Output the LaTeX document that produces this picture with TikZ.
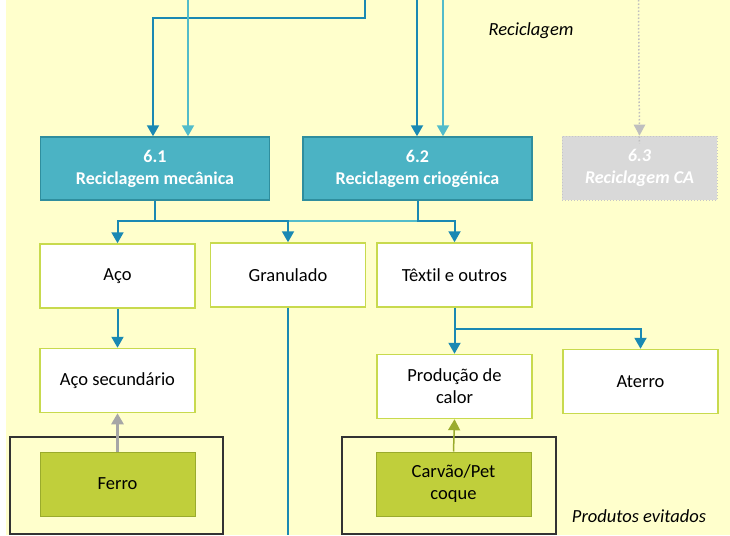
\documentclass[tikz,border=0pt]{standalone}
\usepackage{fontspec}
\setmainfont[Ligatures=NoCommon]{Carlito}
\usetikzlibrary{arrows.meta}
\definecolor{paper}{HTML}{FFFFCC}
\definecolor{tealbox}{HTML}{4BB3C4}
\definecolor{tealedge}{HTML}{2F8E9E}
\definecolor{darkflow}{HTML}{1A89B3}
\definecolor{lightflow}{HTML}{52BCCA}
\definecolor{limeedge}{HTML}{C8DA4E}
\definecolor{olive}{HTML}{C0CF3B}
\definecolor{oliveedge}{HTML}{9AAB2C}
\definecolor{greybox}{HTML}{D9D9D9}
\tikzset{
  tip/.style={-{Triangle[width=12pt,length=11pt]}},
  dk/.style={draw=darkflow,line width=2pt},
  lt/.style={draw=lightflow,line width=2pt},
  process/.style={draw=tealedge,line width=1.5pt,fill=tealbox,text=white,
    minimum width=229pt,minimum height=63pt,align=center,
    font=\fontsize{18}{22}\selectfont\bfseries},
  ghost/.style={draw=gray!45,dotted,line width=1pt,fill=greybox,text=white,
    minimum width=155pt,minimum height=64pt,align=center,
    font=\fontsize{18}{22}\selectfont\bfseries\itshape},
  output/.style={draw=limeedge,line width=1.5pt,fill=white,
    minimum width=155pt,minimum height=64pt,align=center,
    font=\fontsize{18.5}{22}\selectfont},
  avoided/.style={draw=oliveedge,line width=1pt,fill=olive,
    minimum width=155pt,minimum height=64pt,align=center,
    font=\fontsize{18.5}{22}\selectfont},
  frame/.style={draw=black!80,line width=1.5pt},
  note/.style={font=\fontsize{18.5}{22}\selectfont\itshape}
}
\begin{document}
\begin{tikzpicture}[x=1pt,y=-1pt]
\useasboundingbox (0,0) rectangle (730,535);
\fill[paper] (6,0) rectangle (730,535);
\draw[frame] (10,437) rectangle (223,534);
\draw[frame] (342,437) rectangle (556,534);

\node[process] (r61) at (155,168.5) {6.1\\Reciclagem mecânica};
\node[process] (r62) at (417.5,168.5) {6.2\\Reciclagem criogénica};
\node[ghost] (r63) at (639.5,168) {6.3\\Reciclagem CA};
\node[note] (lblrec) at (531,31) {Reciclagem};

\node[output] (aco) at (117.5,276) {Aço};
\node[output] (gran) at (288,275) {Granulado};
\node[output] (tex) at (454.5,275) {Têxtil e outros};
\node[output] (acosec) at (117.5,380.5) {Aço secundário};
\node[output] (prod) at (454.5,386.5) {Produção de\\calor};
\node[output] (aterro) at (640.5,381.5) {Aterro};
\node[avoided] (ferro) at (117.5,484) {Ferro};
\node[avoided] (carvao) at (453.5,484) {Carvão/Pet\\coque};
\node[note] (lblev) at (639,516) {Produtos evitados};

\coordinate (in61) at (365,0);
\coordinate (in61b) at (188,0);
\coordinate (in62) at (417,0);
\coordinate (in62b) at (443,0);
\coordinate (in63) at (638.5,0);
\coordinate (granout) at (288,535);

\draw[dk,tip] (in61) -- ++(0,18) -| ([xshift=-2pt]r61.north);
\draw[lt,tip] (in61b) -- (in61b |- r61.north);
\draw[dk,tip] (in62) -- (in62 |- r62.north);
\draw[lt,tip] (in62b) -- (in62b |- r62.north);
\draw[draw=gray!50,dotted,line width=1.5pt] (in63) -- ([yshift=-8pt]r63.north);
\fill[gray!50] (r63.north) -- ++(-6,-11) -- ++(12,0) -- cycle;

\draw[dk] (r61.south) -- ++(0,20) coordinate (bus61);
\draw[lt] (bus61) -- (bus61 -| r62.south);
\draw[dk,tip] (bus61) -| (aco.north);
\draw[dk,tip] (bus61) -| (gran.north);
\draw[dk,tip] (r62.south) -- ++(0,20) -| (tex.north);
\draw[dk] (gran.south) -- (granout);
\draw[dk,tip] (aco.south) -- (acosec.north);
\draw[dk,tip] (tex.south) -- (prod.north);
\draw[dk,tip] (tex.south) -- ++(0,21) -| (aterro.north);
\draw[draw=gray!70,line width=2.5pt,tip] (ferro.north) -- (acosec.south);
\draw[draw=oliveedge,line width=1.5pt,tip] (carvao.north) -- (prod.south);
\end{tikzpicture}
\end{document}
